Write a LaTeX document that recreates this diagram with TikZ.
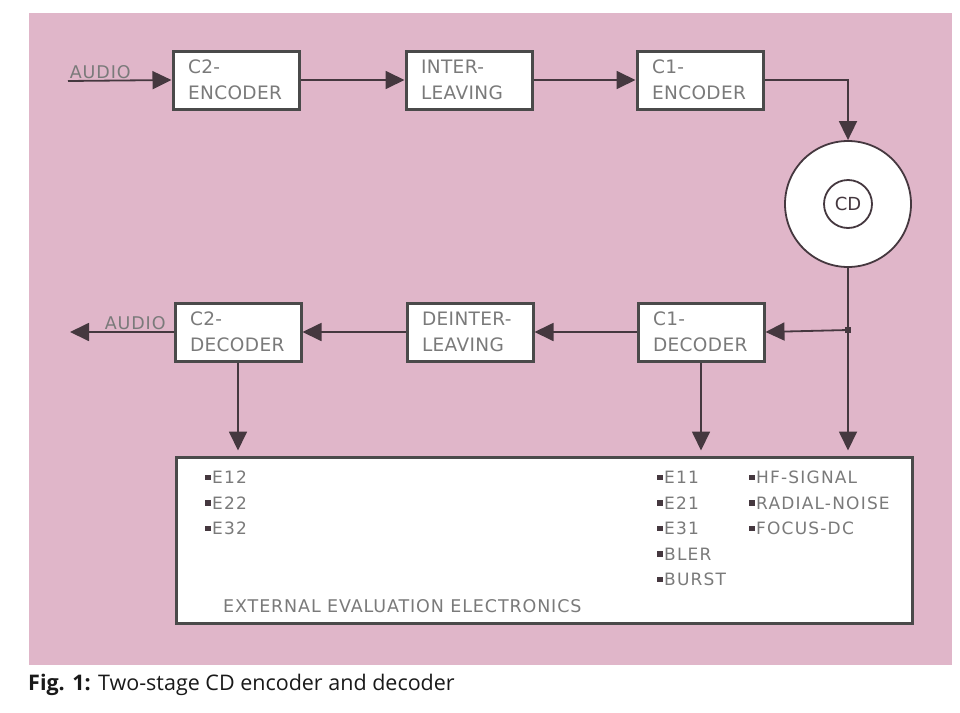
\documentclass[tikz,border=0pt]{standalone}
\usepackage{fontspec}
\setmainfont{DejaVu Sans}
\newfontfamily\capfont{Open Sans}
\usetikzlibrary{arrows.meta,positioning,calc}
\definecolor{cd-pink}{HTML}{E0B6C9}
\definecolor{cd-ink}{HTML}{45383F}
\definecolor{cd-edge}{HTML}{4A4A4A}
\definecolor{cd-text}{HTML}{7A7A7A}
\newcommand{\bul}{\textcolor{cd-ink}{\rule[0.2em]{5.5pt}{5.5pt}}\hspace{1.5pt}}

\begin{document}
\begin{tikzpicture}[
  x=1pt,y=-1pt,
  blk/.style={draw=cd-edge,line width=3pt,fill=white,minimum width=126pt,minimum height=58pt,
              text width=96pt,inner xsep=15pt,align=left,text=cd-text,
              font=\fontsize{18.5}{26}\selectfont\addfontfeatures{LetterSpace=2}},
  lbl/.style={text=cd-text,font=\fontsize{17.5}{20}\selectfont\addfontfeatures{LetterSpace=5},inner sep=1pt},
  lst/.style={text=cd-text,font=\fontsize{17}{25.5}\selectfont\addfontfeatures{LetterSpace=7},
              align=left,anchor=north west,inner sep=0pt},
  ar/.style={-{Triangle[length=19pt,width=18pt]},cd-ink,line width=1.8pt},
  jdot/.style={fill=cd-ink,inner sep=0pt,minimum size=6pt}
]
\useasboundingbox (0,0) rectangle (960,712);
\fill[cd-pink] (29,13) rectangle (952,665);

% encoder row
\node[blk] (c2enc) at (236,80) {C2-\\ENCODER};
\node[blk] (inter) at (469,80) {INTER-\\LEAVING};
\node[blk] (c1enc) at (700,80) {C1-\\ENCODER};

% disc
\node[circle,draw=cd-ink,line width=1.8pt,fill=white,minimum size=126pt] (cd) at (848,204) {};
\node[circle,draw=cd-ink,line width=1.8pt,minimum size=48pt,inner sep=0pt,text=cd-ink,
      font=\fontsize{18}{20}\selectfont] (cdlbl) at (cd) {CD};

% decoder row
\node[blk] (c2dec) at (238,332) {C2-\\DECODER};
\node[blk] (deint) at (470,332) {DEINTER-\\LEAVING};
\node[blk] (c1dec) at (701,332) {C1-\\DECODER};

% evaluation box
\node[draw=cd-edge,line width=3pt,fill=white,minimum width=736pt,minimum height=166pt] (eval) at (544,540) {};
\node[lbl,anchor=base west] (evaltitle) at (222,612) {EXTERNAL EVALUATION ELECTRONICS};
\node[lst] (lista) at (205,471) {\bul E12\\\bul E22\\\bul E32};
\node[lst] (listb) at (657,471) {\bul E11\\\bul E21\\\bul E31\\\bul BLER\\\bul BURST};
\node[lst] (listc) at (749,471) {\bul HF-SIGNAL\\\bul RADIAL-NOISE\\\bul FOCUS-DC};

\coordinate (ain)  at (68,81);
\coordinate (aout) at (70,332);
\coordinate (jn)   at (848,330);
\node[jdot] (jndot) at (jn) {};

\draw[ar] (ain) node[lbl,anchor=south west] (ainlbl) {AUDIO} -- (c2enc.west);
\draw[ar] (c2enc) -- (inter);
\draw[ar] (inter) -- (c1enc);
\draw[ar] (c1enc.east) -| (cd.north);
\draw[ar,shorten >=5pt] (cd.south) -- (cd.south |- eval.north);
\draw[ar] (jn) -- (c1dec.east);
\draw[ar] (c1dec) -- (deint);
\draw[ar] (deint) -- (c2dec);
\draw[ar] (c2dec.west) -- node[lbl,above,pos=0.37] (aoutlbl) {AUDIO} (aout);
\draw[ar,shorten >=5pt] (c2dec.south) -- (c2dec.south |- eval.north);
\draw[ar,shorten >=5pt] (c1dec.south) -- (c1dec.south |- eval.north);

\node[anchor=base west,inner sep=0pt,text=black!90,font=\capfont\fontsize{21.5}{25}\selectfont] (cap) at (28,690)
     {\textbf{Fig. 1:} Two-stage CD encoder and decoder};
\end{tikzpicture}
\end{document}
